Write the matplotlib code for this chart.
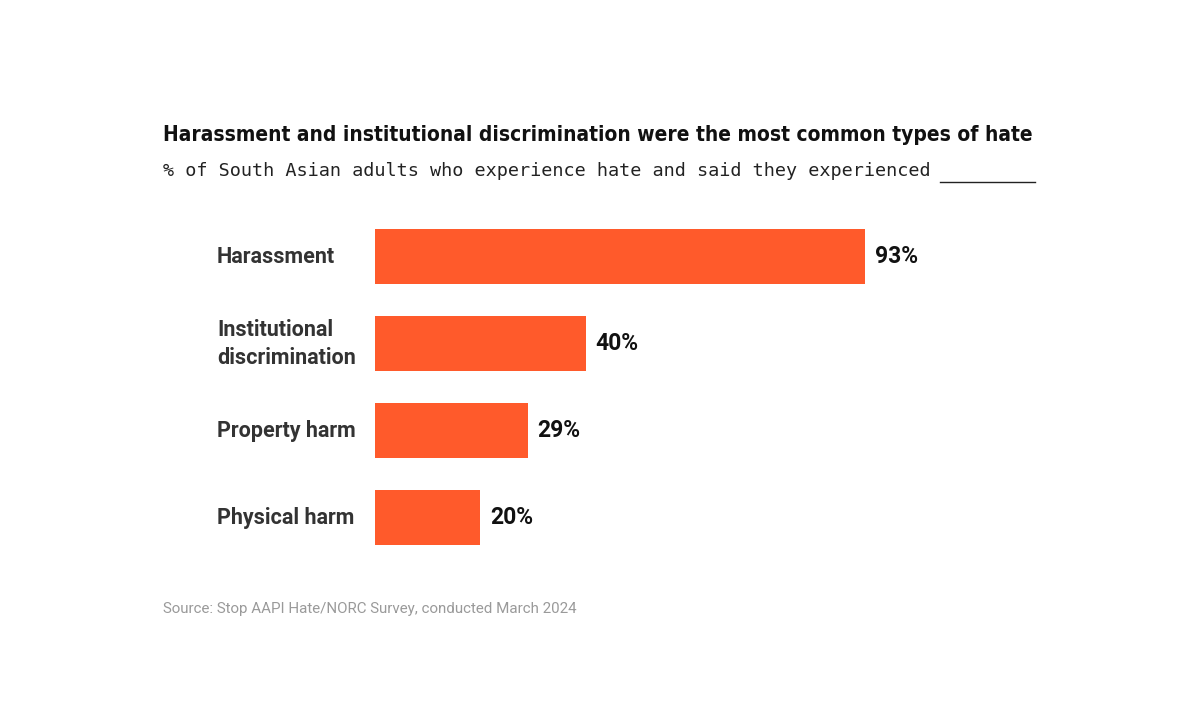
import matplotlib.pyplot as plt
import matplotlib.transforms as mtransforms

categories = ["Harassment", "Institutional\ndiscrimination", "Property harm", "Physical harm"]
values = [93, 40, 29, 20]
value_labels = ["93%", "40%", "29%", "20%"]

bar_color = "#FF5A2B"

fig = plt.figure(figsize=(12, 7.26), dpi=100)
fig.patch.set_facecolor("white")

# axes spans the bar area, x scale ~5.27 px per percent
ax = fig.add_axes([375 / 1200, 1 - 561.5 / 726, 660 / 1200, 348.5 / 726])
ypos = list(range(len(categories)))
ax.barh(ypos, values, height=0.63, color=bar_color)
ax.set_xlim(0, 660 / 5.27)
ax.set_ylim(len(categories) - 0.5, -0.5)
ax.axis("off")

for y, v, lab in zip(ypos, values, value_labels):
    ax.annotate(lab, (v, y), xytext=(7, 0), textcoords="offset points",
                ha="left", va="center", fontsize=16.5, fontweight="bold",
                family="Roboto", color="#111111")

trans = mtransforms.blended_transform_factory(fig.transFigure, ax.transData)
for y, cat in zip(ypos, categories):
    ax.text(217 / 1200, y, cat, transform=trans, ha="left", va="center",
            fontsize=15.5, fontweight="bold", family="Roboto", color="#333333",
            linespacing=1.35)

title = fig.text(163 / 1200, 1 - 135 / 726,
                 "Harassment and institutional discrimination were the most common types of hate",
                 ha="left", va="center", fontsize=20, fontweight="bold",
                 family="DejaVu Sans", fontstretch="condensed", color="#111111")
# shrink the title so it spans the same width as in the source (~872 px)
renderer = fig.canvas.get_renderer()
w = title.get_window_extent(renderer).width
title.set_fontsize(20 * 872 / w)

fig.text(163 / 1200, 1 - 171 / 726, "% of South Asian adults who experience hate and said they experienced",
         ha="left", va="center", fontsize=13.3, family="DejaVu Sans Mono", color="#222222")
fig.add_artist(plt.Line2D([940 / 1200, 1035 / 1200], [1 - 182 / 726, 1 - 182 / 726],
                          transform=fig.transFigure, color="#222222", lw=1))
fig.text(163 / 1200, 1 - 609 / 726, "Source: Stop AAPI Hate/NORC Survey, conducted March 2024",
         ha="left", va="center", fontsize=10.9, family="Roboto", color="#9a9a9a")

fig.savefig("out.png", dpi=100)
